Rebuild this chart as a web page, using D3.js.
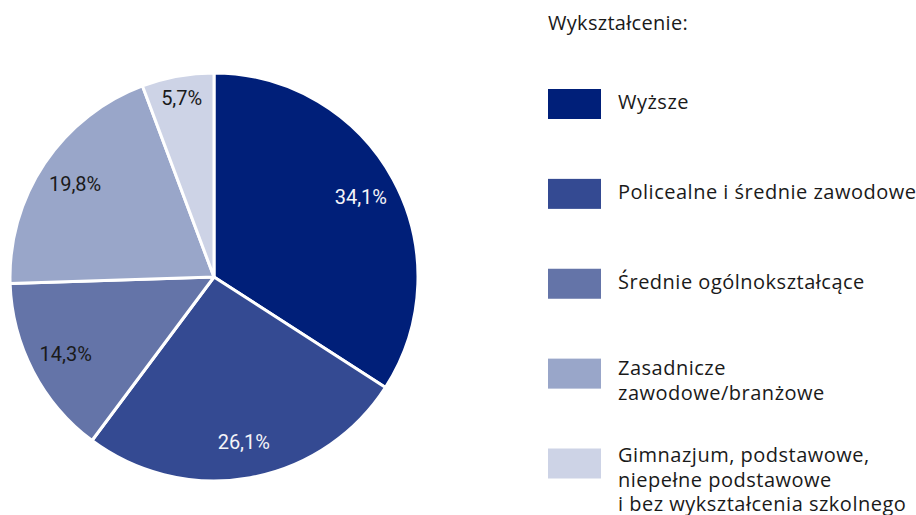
<!DOCTYPE html>
<html>
<head>
<meta charset="utf-8">
<script src="https://cdn.jsdelivr.net/npm/d3@7"></script>
<style>
  body { margin: 0; background: #fff; }
  .legend text { font-family: "Open Sans", "Noto Sans", sans-serif; }
  .lbl { font-family: Roboto, "Open Sans", sans-serif; }
</style>
</head>
<body>
<svg id="chart" width="916" height="515"></svg>
<script>
var categories = [
  ["Wyższe"],
  ["Policealne i średnie zawodowe"],
  ["Średnie ogólnokształcące"],
  ["Zasadnicze", "zawodowe/branżowe"],
  ["Gimnazjum, podstawowe,", "niepełne podstawowe", "i bez wykształcenia szkolnego"]
];
var values = [34.1, 26.1, 14.3, 19.8, 5.7];
var colors = ["#001f79", "#344a92", "#6474a8", "#99a6c9", "#cdd3e6"];
var labelColors = ["#f4f4f8", "#f4f4f8", "#1a1a1a", "#1a1a1a", "#1a1a1a"];
var legendTitle = "Wykształcenie:";

var svg = d3.select("#chart");
var cx = 214, cy = 277, r = 204;

var pie = d3.pie().sort(null).value(d => d);
var arcs = pie(values);
var arc = d3.arc().innerRadius(0).outerRadius(r);
var labelArc = d3.arc().innerRadius(r * 0.82).outerRadius(r * 0.82);
var labelArcSmall = d3.arc().innerRadius(r * 0.89).outerRadius(r * 0.89);

var g = svg.append("g").attr("transform", "translate(" + cx + "," + cy + ")");

g.selectAll("path")
  .data(arcs)
  .enter()
  .append("path")
  .attr("d", arc)
  .attr("fill", (d, i) => colors[i])
  .attr("stroke", "#fff")
  .attr("stroke-width", 3)
  .attr("stroke-linejoin", "round");

var fmt = v => v.toFixed(1).replace(".", ",") + "%";

g.selectAll("text.lbl")
  .data(arcs)
  .enter()
  .append("text")
  .attr("class", "lbl")
  .attr("transform", d => "translate(" + (d.value < 10 ? labelArcSmall : labelArc).centroid(d) + ")")
  .attr("text-anchor", "middle")
  .attr("dy", "0.35em")
  .attr("font-size", 20)
  .attr("fill", (d, i) => labelColors[i])
  .text(d => fmt(d.value));

// legend
var lg = svg.append("g").attr("class", "legend");
lg.append("text")
  .attr("x", 548)
  .attr("y", 30)
  .attr("font-size", 20)
  .attr("letter-spacing", 0.3)
  .attr("fill", "#1a1a1a")
  .text(legendTitle);

var itemY = d3.scaleLinear().domain([0, 4]).range([104, 463.5]);

var items = lg.selectAll("g.item")
  .data(categories)
  .enter()
  .append("g")
  .attr("class", "item")
  .attr("transform", (d, i) => "translate(0," + itemY(i) + ")");

items.append("rect")
  .attr("x", 548)
  .attr("y", -15)
  .attr("width", 53)
  .attr("height", 30)
  .attr("fill", (d, i) => colors[i]);

items.each(function (lines) {
  var t = d3.select(this).append("text")
    .attr("x", 618)
    .attr("font-size", 20)
    .attr("letter-spacing", 0.5)
    .attr("fill", "#1a1a1a");
  var y0 = 5 - 3.25 * (lines.length - 1);
  lines.forEach(function (ln, j) {
    t.append("tspan")
      .attr("x", 618)
      .attr("y", y0 + j * 24.5)
      .text(ln);
  });
});
</script>
</body>
</html>
